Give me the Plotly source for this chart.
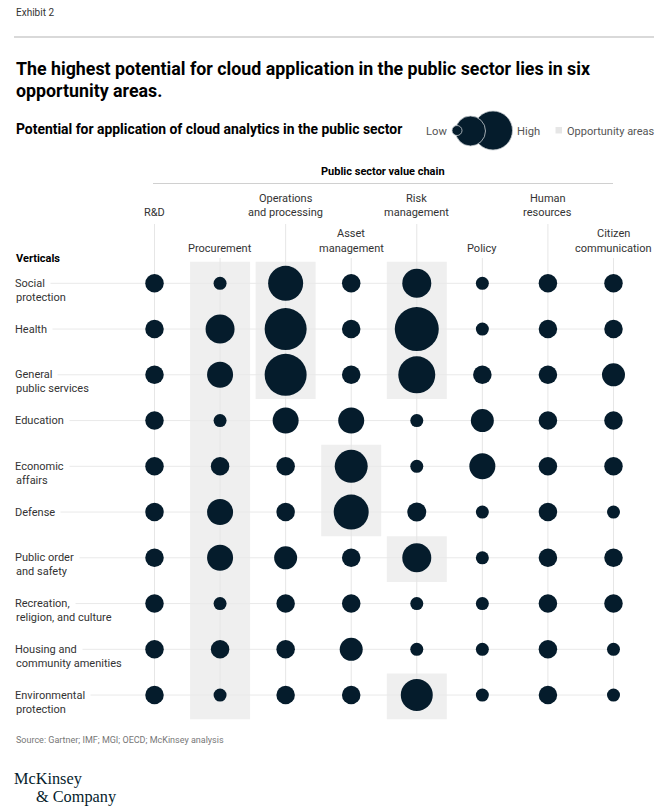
import plotly.graph_objects as go

# ---------------- data ----------------
columns = ["R&D", "Procurement", "Operations and processing", "Asset management",
           "Risk management", "Policy", "Human resources", "Citizen communication"]
column_label_lines = [["R&D"], ["Procurement"], ["Operations", "and processing"],
                      ["Asset", "management"], ["Risk", "management"], ["Policy"],
                      ["Human", "resources"], ["Citizen", "communication"]]
column_tier = [1, 2, 1, 2, 1, 2, 1, 2]

rows = ["Social protection", "Health", "General public services", "Education",
        "Economic affairs", "Defense", "Public order and safety",
        "Recreation, religion, and culture", "Housing and community amenities",
        "Environmental protection"]
row_label_lines = [["Social", "protection"], ["Health"], ["General", "public services"],
                   ["Education"], ["Economic", "affairs"], ["Defense"],
                   ["Public order", "and safety"], ["Recreation,", "religion, and culture"],
                   ["Housing and", "community amenities"], ["Environmental", "protection"]]

# potential score per vertical (row) across value chain (columns)
potential = {
    "Social protection":                 [1.85, 1.3, 3.5, 1.85, 2.9, 1.3, 1.85, 1.85],
    "Health":                            [1.85, 2.9, 4.2, 1.85, 4.4, 1.3, 1.85, 1.85],
    "General public services":           [1.85, 2.6, 4.2, 1.85, 3.7, 1.85, 1.85, 2.3],
    "Education":                         [1.85, 1.3, 2.6, 2.6, 1.3, 2.3, 1.85, 1.85],
    "Economic affairs":                  [1.85, 1.85, 1.85, 3.3, 1.3, 2.6, 1.85, 1.85],
    "Defense":                           [1.85, 2.6, 1.85, 3.5, 1.9, 1.3, 1.85, 1.3],
    "Public order and safety":           [1.85, 2.6, 2.3, 1.85, 2.9, 1.3, 1.85, 1.85],
    "Recreation, religion, and culture": [1.85, 1.3, 1.85, 1.85, 1.3, 1.3, 1.85, 1.85],
    "Housing and community amenities":   [1.85, 1.85, 1.85, 2.3, 1.3, 1.3, 1.85, 1.3],
    "Environmental protection":          [1.85, 1.3, 1.85, 1.85, 3.2, 1.3, 1.85, 1.3],
}

# opportunity areas: (column, first row, last row)
opportunity_areas = [
    ("Procurement", "Social protection", "Environmental protection"),
    ("Operations and processing", "Social protection", "General public services"),
    ("Asset management", "Economic affairs", "Defense"),
    ("Risk management", "Social protection", "General public services"),
    ("Risk management", "Public order and safety", "Public order and safety"),
    ("Risk management", "Environmental protection", "Environmental protection"),
]

# ---------------- styling / layout ----------------
W, H = 667, 810
NAVY = "#051c2c"
FONT = "Roboto"
X0_PX, DX = 154.5, 65.57     # pixel of first column, pixels per column
Y0_PX, DY = 283.3, 45.75     # pixel of first row, pixels per row

def px(x):
    return x / W

def py(y):
    return 1 - y / H

def ydata(ypix):
    return (ypix - Y0_PX) / DY

xs, ys, ss = [], [], []
for r in rows:
    for c, v in zip(columns, potential[r]):
        xs.append(c)
        ys.append(r)
        ss.append(v)

fig = go.Figure()
fig.add_trace(go.Scatter(
    x=xs, y=ys, mode="markers",
    marker=dict(size=ss, sizemode="diameter", sizeref=0.1, color=NAVY,
                line=dict(width=0), opacity=1),
    hoverinfo="skip", showlegend=False, cliponaxis=False,
))

shapes = []
# opportunity area shading
half_w = 30 / DX
for col, r0, r1 in opportunity_areas:
    ci = columns.index(col)
    shapes.append(dict(type="rect", xref="x", yref="y", layer="below",
                       x0=ci - half_w, x1=ci + half_w,
                       y0=rows.index(r0) - 0.47, y1=rows.index(r1) + 0.53,
                       fillcolor="#efefef", line=dict(width=0)))
# horizontal grid lines
for i, r in enumerate(rows):
    shapes.append(dict(type="line", xref="x", yref="y", layer="below",
                       x0=(14 - X0_PX) / DX, x1=len(columns) - 1, y0=i, y1=i,
                       line=dict(color="#e9e9e9", width=1)))
# vertical grid lines
for i, t in enumerate(column_tier):
    top = 224 if t == 1 else 258
    shapes.append(dict(type="line", xref="x", yref="y", layer="below",
                       x0=i, x1=i, y0=ydata(top), y1=len(rows) - 1,
                       line=dict(color="#e6e6e6", width=1)))
# top rule and value-chain rule
shapes.append(dict(type="line", xref="paper", yref="paper", x0=px(14), x1=px(654),
                   y0=py(37), y1=py(37), line=dict(color="#b3b3b3", width=1)))
shapes.append(dict(type="line", xref="paper", yref="paper", x0=px(153), x1=px(613),
                   y0=py(183.5), y1=py(183.5), line=dict(color="#d0d0d0", width=1)))
# legend: bubbles (largest first)
for cx, cy, d in [(493, 130.5, 39), (470.5, 131, 30), (457, 130.5, 10)]:
    shapes.append(dict(type="circle", xref="paper", yref="paper",
                       x0=px(cx - d / 2), x1=px(cx + d / 2),
                       y0=py(cy + d / 2), y1=py(cy - d / 2),
                       fillcolor=NAVY, line=dict(color="#c9ced2", width=0.8)))
shapes.append(dict(type="rect", xref="paper", yref="paper",
                   x0=px(555.5), x1=px(562), y0=py(133.5), y1=py(127),
                   fillcolor="#e6e6e6", line=dict(width=0)))

ann = []

def text(x, y, s, size=11, color="#333333", bold=False, anchor="left", family=FONT, **kw):
    ann.append(dict(xref="paper", yref="paper", x=px(x), y=py(y),
                    text=f"<b>{s}</b>" if bold else s, showarrow=False,
                    xanchor=anchor, yanchor="middle",
                    font=dict(family=family, size=size, color=color), **kw))

text(14, 12, "Exhibit 2", size=10, color="#333333")
text(14, 68.5, "The highest potential for cloud application in the public sector lies in six",
     size=17.8, color="#000000", bold=True)
text(14, 90, "opportunity areas.", size=17.8, color="#000000", bold=True)
text(14, 129, "Potential for application of cloud analytics in the public sector",
     size=13.9, color="#000000", bold=True)
text(449, 131, "Low", size=11.2, color="#555555", anchor="right")
text(515, 131, "High", size=11.2, color="#555555")
text(565, 131, "Opportunity areas", size=11, color="#555555")
text(383, 171, "Public sector value chain", size=11, color="#000000", bold=True, anchor="center")
text(14, 258, "Verticals", size=11, color="#000000", bold=True)
text(14, 740, "Source: Gartner; IMF; MGI; OECD; McKinsey analysis", size=9, color="#777777")
text(12, 778, "McKinsey", size=16.3, color=NAVY, family="Liberation Serif")
text(34, 796, "&amp; Company", size=16.3, color=NAVY, family="Liberation Serif")

# column headers
for i, (lines, t) in enumerate(zip(column_label_lines, column_tier)):
    base = 212 if t == 1 else 248
    for k, s in enumerate(lines):
        yy = base - 14 * (len(lines) - 1 - k)
        ann.append(dict(xref="x", yref="paper", x=columns[i], y=py(yy), text=s,
                        showarrow=False, xanchor="center", yanchor="middle",
                        font=dict(family=FONT, size=11, color="#333333")))

# row labels (first line masks the grid line)
for i, lines in enumerate(row_label_lines):
    ann.append(dict(xref="paper", yref="y", x=px(9), y=rows[i], text=lines[0],
                    showarrow=False, xanchor="left", yanchor="middle",
                    bgcolor="#ffffff", borderpad=5,
                    font=dict(family=FONT, size=11, color="#333333")))
    if len(lines) > 1:
        ann.append(dict(xref="paper", yref="y", x=px(14), y=rows[i], yshift=-14,
                        text=lines[1], showarrow=False, xanchor="left", yanchor="middle",
                        font=dict(family=FONT, size=11, color="#333333")))

fig.update_layout(
    width=W, height=H, margin=dict(l=0, r=0, t=0, b=0),
    paper_bgcolor="white", plot_bgcolor="white",
    xaxis=dict(type="category", categoryorder="array", categoryarray=columns,
               range=[-X0_PX / DX, (W - X0_PX) / DX], visible=False, fixedrange=True),
    yaxis=dict(type="category", categoryorder="array", categoryarray=rows,
               range=[(H - Y0_PX) / DY, -Y0_PX / DY], visible=False, fixedrange=True),
    shapes=shapes, annotations=ann, showlegend=False,
)

fig.write_html("out.html", config={"displayModeBar": False})
